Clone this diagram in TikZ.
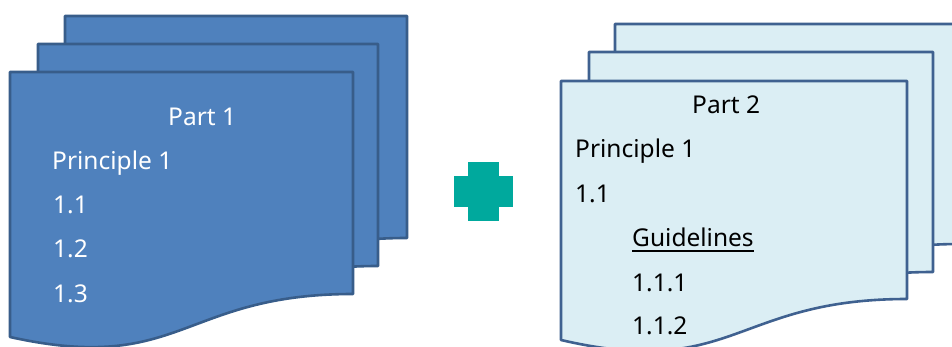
\documentclass[tikz,border=0pt]{standalone}
\usepackage{fontspec}
\setmainfont{Noto Sans}
\definecolor{darkfill}{HTML}{4F81BD}
\definecolor{darkline}{HTML}{385D8A}
\definecolor{lightfill}{HTML}{DBEEF4}
\definecolor{lightline}{HTML}{3F6190}
\definecolor{plusteal}{HTML}{00A99D}
\newcommand{\docsheet}[8]{% style, x0, y0, w, dR, dL, k
  \begin{scope}[shift={(#2,#3)}]
    \filldraw[#1] (0,0) -- (#4,0) -- (#4,#5) .. controls ({#4/2},#5) and ({#4/2},{#5+#7}) .. (0,#6) -- cycle;
  \end{scope}}
\tikzset{
  darksheet/.style={fill=darkfill, draw=darkline, line width=2.6pt, line join=round},
  lightsheet/.style={fill=lightfill, draw=lightline, line width=2.6pt, line join=round},
  lbl/.style={anchor=base west, inner sep=0pt, font=\fontsize{24.5}{28}\selectfont},
  wlbl/.style={lbl, text=white},
  klbl/.style={lbl, text=black},
}
\begin{document}
\begin{tikzpicture}[x=1pt,y=-1pt]
\clip (0,0) rectangle (952,347);
\fill[white] (0,0) rectangle (952,347);
% left stack
\docsheet{darksheet}{65}{16}{342}{222}{265}{81}{}
\docsheet{darksheet}{38}{44}{340}{222}{265}{81}{}
\docsheet{darksheet}{10}{72}{343}{222}{265}{81}{}
% right stack
\docsheet{lightsheet}{615}{24}{346}{220}{259}{81}{}
\docsheet{lightsheet}{589}{52}{344}{220}{259}{81}{}
\docsheet{lightsheet}{561}{81}{346}{218}{259}{81}{}
% plus
\fill[plusteal] (454,176) rectangle (513,207);
\fill[plusteal] (468,162) rectangle (499,221);
% left texts
\node[wlbl] (p1) at (168,126) {Part 1};
\node[wlbl] (pr1) at (52,170) {Principle 1};
\node[wlbl] (a11) at (53,214) {1.1};
\node[wlbl] (a12) at (53,258) {1.2};
\node[wlbl] (a13) at (53,302) {1.3};
% right texts
\node[klbl] (p2) at (692,114) {Part 2};
\node[klbl] (pr2) at (575,158) {Principle 1};
\node[klbl] (b11) at (575,203) {1.1};
\node[klbl] (gl) at (632,247) {Guidelines};
\draw[line width=2.8pt] ([yshift=-4pt]gl.base west) -- ([yshift=-4pt]gl.base east);
\node[klbl] (b111) at (632,291) {1.1.1};
\node[klbl] (b112) at (632,334) {1.1.2};
\end{tikzpicture}
\end{document}
